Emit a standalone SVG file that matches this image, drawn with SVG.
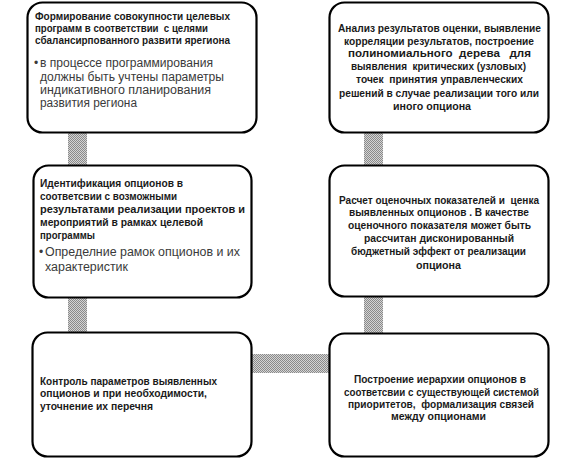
<svg xmlns="http://www.w3.org/2000/svg" width="576" height="465" viewBox="0 0 576 465" xml:space="preserve">
<style>
.box{fill:#fff;stroke:#000;stroke-width:2.2}
.h{font-family:"Liberation Sans",Arial,sans-serif;font-size:10px;font-weight:bold;fill:#1a1a1a;white-space:pre}
.b{font-family:"Liberation Sans",Arial,sans-serif;font-size:12px;fill:#3a3a3a;white-space:pre}
.c{fill:url(#dither)}
</style>
<defs>
<pattern id="dither" width="2" height="2" patternUnits="userSpaceOnUse">
<rect width="2" height="2" fill="#d4d4d4"/>
<rect x="0" y="0" width="1" height="1" fill="#8a8a8a"/>
<rect x="1" y="1" width="1" height="1" fill="#8a8a8a"/>
</pattern>
</defs>
<g id="connectors">
<rect class="c" x="68" y="133" width="19" height="32"/>
<rect class="c" x="68" y="298" width="19" height="34"/>
<rect class="c" x="252" y="354" width="77" height="19"/>
<rect class="c" x="364" y="297" width="19" height="36"/>
<rect class="c" x="364" y="133" width="19" height="32"/>
</g>
<g id="node1">
<rect class="box" x="27.5" y="2.5" width="229" height="130" rx="15"/>
<text class="h" x="35" y="20" textLength="195" lengthAdjust="spacingAndGlyphs">Формирование совокупности целевых</text>
<text class="h" x="35" y="32" textLength="173" lengthAdjust="spacingAndGlyphs">программ в соответствии  с целями</text>
<text class="h" x="35" y="44" textLength="195" lengthAdjust="spacingAndGlyphs">сбалансирпованного развити ярегиона</text>
<text class="b" x="34" y="67">•</text>
<text class="b" x="40" y="67" textLength="173" lengthAdjust="spacingAndGlyphs">в процессе программирования</text>
<text class="b" x="40" y="81" textLength="184" lengthAdjust="spacingAndGlyphs">должны быть учтены параметры</text>
<text class="b" x="40" y="94" textLength="171" lengthAdjust="spacingAndGlyphs">индикативного планирования</text>
<text class="b" x="40" y="107" textLength="97" lengthAdjust="spacingAndGlyphs">развития региона</text>
</g>
<g id="node2">
<rect class="box" x="33.5" y="165.5" width="218" height="132" rx="15"/>
<text class="h" x="40" y="187" textLength="143" lengthAdjust="spacingAndGlyphs">Идентификация опционов в</text>
<text class="h" x="40" y="200" textLength="137" lengthAdjust="spacingAndGlyphs">соответсвии с возможными</text>
<text class="h" x="40" y="213" textLength="205" lengthAdjust="spacingAndGlyphs">результатами реализации проектов и</text>
<text class="h" x="40" y="226" textLength="163" lengthAdjust="spacingAndGlyphs">мероприятий в рамках целевой</text>
<text class="h" x="40" y="239" textLength="55" lengthAdjust="spacingAndGlyphs">программы</text>
<text class="b" x="39" y="256">•</text>
<text class="b" x="45" y="256" textLength="195" lengthAdjust="spacingAndGlyphs">Определние рамок опционов и их</text>
<text class="b" x="45" y="271" textLength="83" lengthAdjust="spacingAndGlyphs">характеристик</text>
</g>
<g id="node3">
<rect class="box" x="32.5" y="332.5" width="219" height="124" rx="15"/>
<text class="h" x="40" y="385" textLength="177" lengthAdjust="spacingAndGlyphs">Контроль параметров выявленных</text>
<text class="h" x="40" y="397" textLength="167" lengthAdjust="spacingAndGlyphs">опционов и при необходимости,</text>
<text class="h" x="40" y="410" textLength="113" lengthAdjust="spacingAndGlyphs">уточнение их перечня</text>
</g>
<g id="node4">
<rect class="box" x="329.5" y="2.5" width="219" height="130" rx="15"/>
<text class="h" x="338" y="32" textLength="203" lengthAdjust="spacingAndGlyphs">Анализ результатов оценки, выявление</text>
<text class="h" x="344" y="45" textLength="190" lengthAdjust="spacingAndGlyphs">корреляции результатов, построение</text>
<text class="h" x="348" y="57" textLength="183" lengthAdjust="spacingAndGlyphs">полиномиального  дерева   для</text>
<text class="h" x="351" y="70" textLength="175" lengthAdjust="spacingAndGlyphs">выявления  критических (узловых)</text>
<text class="h" x="356" y="83" textLength="167" lengthAdjust="spacingAndGlyphs">точек  принятия управленческих</text>
<text class="h" x="339" y="97" textLength="200" lengthAdjust="spacingAndGlyphs">решений в случае реализации того или</text>
<text class="h" x="393" y="110" textLength="78" lengthAdjust="spacingAndGlyphs">иного опциона</text>
</g>
<g id="node5">
<rect class="box" x="329.5" y="165.5" width="219" height="131" rx="15"/>
<text class="h" x="339" y="204" textLength="200" lengthAdjust="spacingAndGlyphs">Расчет оценочных показателей и  ценка</text>
<text class="h" x="349" y="216" textLength="180" lengthAdjust="spacingAndGlyphs">выявленных опционов . В качестве</text>
<text class="h" x="348" y="229" textLength="183" lengthAdjust="spacingAndGlyphs">оценочного показателя может быть</text>
<text class="h" x="364" y="242" textLength="150" lengthAdjust="spacingAndGlyphs">рассчитан дисконированный</text>
<text class="h" x="351" y="255" textLength="175" lengthAdjust="spacingAndGlyphs">бюджетный эффект от реализации</text>
<text class="h" x="416" y="269" textLength="45" lengthAdjust="spacingAndGlyphs">опциона</text>
</g>
<g id="node6">
<rect class="box" x="329.5" y="333.5" width="219" height="123" rx="15"/>
<text class="h" x="354" y="383" textLength="172" lengthAdjust="spacingAndGlyphs">Построение иерархии опционов в</text>
<text class="h" x="344" y="396" textLength="195" lengthAdjust="spacingAndGlyphs">соответсвии с существующей системой</text>
<text class="h" x="348" y="408" textLength="186" lengthAdjust="spacingAndGlyphs">приоритетов,  формализация связей</text>
<text class="h" x="391" y="420" textLength="95" lengthAdjust="spacingAndGlyphs">между опционами</text>
</g>
</svg>
